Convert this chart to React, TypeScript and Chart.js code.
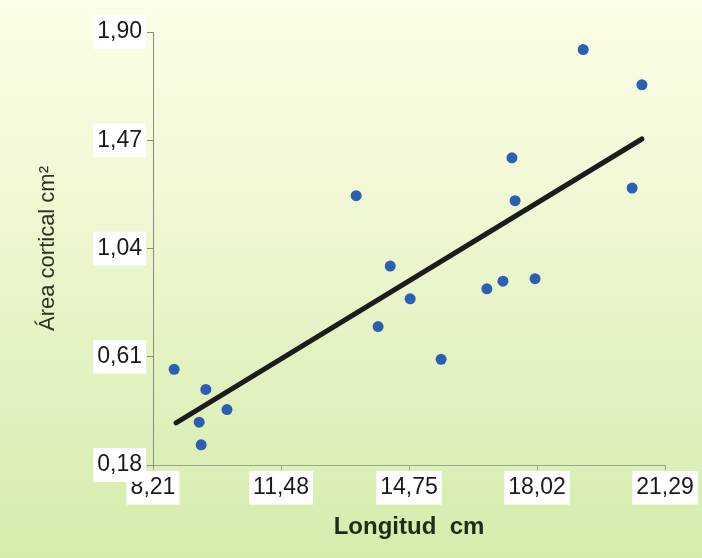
import React, { useEffect, useRef } from "react";
import { Chart, registerables } from "chart.js";

Chart.register(...registerables);

const lengths = [8.75, 9.56, 10.10, 9.39, 9.44, 13.40, 14.27, 13.96, 14.78, 15.57, 16.74, 17.15, 17.38, 17.46, 17.97, 19.20, 20.70, 20.45];
const areas = [0.56, 0.48, 0.40, 0.35, 0.26, 1.25, 0.97, 0.73, 0.84, 0.60, 0.88, 0.91, 1.40, 1.23, 0.92, 1.83, 1.69, 1.28];
const trendX = [8.80, 20.70];
const trendY = [0.347, 1.475];
const xTicks = [8.21, 11.48, 14.75, 18.02, 21.29];
const yTicks = [0.18, 0.61, 1.04, 1.47, 1.90];

const fmt = (v: number) => v.toFixed(2).replace(".", ",");

const bgPlugin = {
  id: "bgGradient",
  beforeDraw(chart: any) {
    const { ctx, width, height } = chart;
    const g = ctx.createLinearGradient(0, 0, 0, height);
    g.addColorStop(0, "#fcfde6");
    g.addColorStop(0.3, "#f3f9d8");
    g.addColorStop(0.6, "#e5f3c4");
    g.addColorStop(1, "#d5ecad");
    ctx.save();
    ctx.fillStyle = g;
    ctx.fillRect(0, 0, width, height);
    ctx.restore();
  },
};

export default function App() {
  const ref = useRef<HTMLCanvasElement | null>(null);
  useEffect(() => {
    if (!ref.current) return;
    const chart = new Chart(ref.current, {
      type: "scatter",
      data: {
        datasets: [
          {
            type: "line",
            data: trendX.map((x, i) => ({ x, y: trendY[i] })),
            borderColor: "#1c1c1c",
            borderWidth: 5,
            pointRadius: 0,
            borderCapStyle: "round",
            fill: false,
          } as any,
          {
            data: lengths.map((x, i) => ({ x, y: areas[i] })),
            backgroundColor: "#2b5fb3",
            borderColor: "#2b5fb3",
            borderWidth: 0,
            pointRadius: 5.5,
          },
        ],
      },
      options: {
        animation: false,
        responsive: false,
        devicePixelRatio: 1,
        layout: { padding: { top: 32, right: 37, left: 0, bottom: 0 } },
        plugins: { legend: { display: false }, tooltip: { enabled: false } },
        scales: {
          x: {
            type: "linear",
            min: 8.21,
            max: 21.29,
            afterBuildTicks: (s: any) => {
              s.ticks = xTicks.map((v) => ({ value: v }));
            },
            afterFit: (s: any) => {
              s.height = 93;
            },
            ticks: {
              callback: (v: any) => fmt(Number(v)),
              color: "#1a1a1a",
              font: { family: "'Liberation Sans', Arial, sans-serif", size: 23 },
              padding: 4,
              showLabelBackdrop: true,
              backdropColor: "#ffffff",
              backdropPadding: { top: 3, bottom: 3, left: 4, right: 4 },
            } as any,
            grid: { drawOnChartArea: false, drawTicks: true, tickLength: 5, color: "#9aa88a" },
            border: { display: true, color: "#9aa88a", width: 1 },
            title: {
              display: true,
              text: "Longitud  cm",
              color: "#1e2c18",
              font: { family: "'Liberation Sans', Arial, sans-serif", size: 24, weight: "bold" },
              padding: { top: 0, bottom: 16 },
            },
          },
          y: {
            type: "linear",
            min: 0.18,
            max: 1.9,
            afterBuildTicks: (s: any) => {
              s.ticks = yTicks.map((v) => ({ value: v }));
            },
            afterFit: (s: any) => {
              s.width = 153;
            },
            ticks: {
              callback: (v: any) => fmt(Number(v)),
              color: "#1a1a1a",
              font: { family: "'Liberation Sans', Arial, sans-serif", size: 23 },
              padding: 5,
              showLabelBackdrop: true,
              backdropColor: "#ffffff",
              backdropPadding: { top: 3, bottom: 3, left: 4, right: 4 },
            } as any,
            grid: { drawOnChartArea: false, drawTicks: true, tickLength: 6, color: "#8a8a80" },
            border: { display: true, color: "#8a8a80", width: 1 },
            title: {
              display: true,
              text: "Área cortical cm²",
              color: "#2a3324",
              font: { family: "'Liberation Sans', Arial, sans-serif", size: 22 },
              padding: { top: 35, bottom: 0 },
            },
          },
        },
      },
      plugins: [bgPlugin],
    } as any);
    return () => chart.destroy();
  }, []);
  return (
    <div style={{ position: "fixed", left: 0, top: 0, width: 702, height: 558 }}>
      <canvas ref={ref} width={702} height={558} style={{ width: 702, height: 558, display: "block" }} />
    </div>
  );
}
